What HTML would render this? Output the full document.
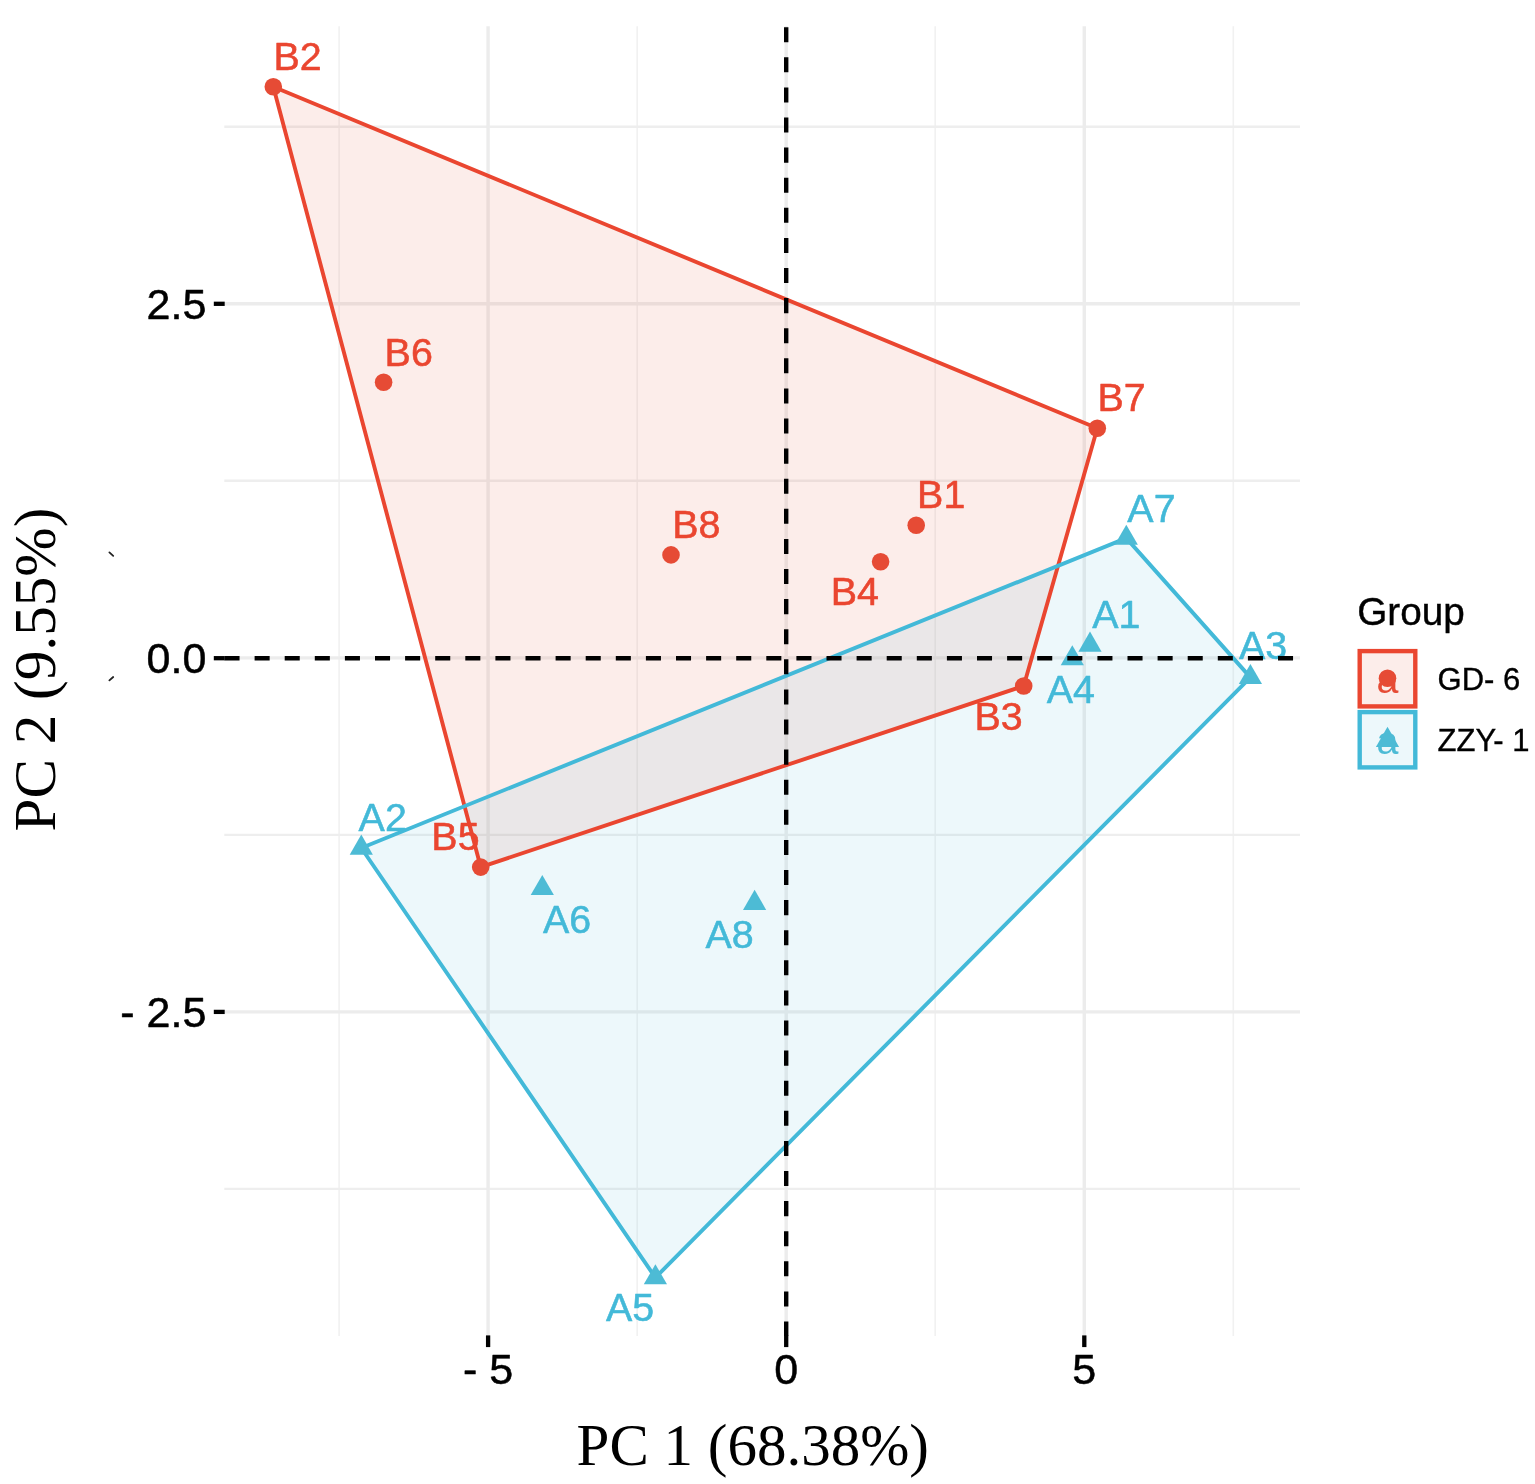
<!DOCTYPE html>
<html lang="en"><head><meta charset="utf-8"><title>PCA score plot</title>
<style>
html,body{margin:0;padding:0;background:#fff;}
body{width:1535px;height:1484px;overflow:hidden;}
svg{display:block;}
text{font-family:"Liberation Sans",Arial,Helvetica,sans-serif;}
.ser{font-family:"Liberation Serif","Times New Roman",Times,serif;}
</style></head><body>
<svg width="1535" height="1484" viewBox="0 0 1535 1484">
<rect width="1535" height="1484" fill="#ffffff"/>
<!-- panel grid -->
<g stroke="#ececec" fill="none">
<line x1="339.1" x2="339.1" y1="26.2" y2="1336.0" stroke="#f1f1f1" stroke-width="1.6"/>
<line x1="637.2" x2="637.2" y1="26.2" y2="1336.0" stroke="#f1f1f1" stroke-width="1.6"/>
<line x1="935.2" x2="935.2" y1="26.2" y2="1336.0" stroke="#f1f1f1" stroke-width="1.6"/>
<line x1="1233.3" x2="1233.3" y1="26.2" y2="1336.0" stroke="#f1f1f1" stroke-width="1.6"/>
<line y1="126.8" y2="126.8" x1="224.3" x2="1300.0" stroke="#eeeeee" stroke-width="2.4"/>
<line y1="480.8" y2="480.8" x1="224.3" x2="1300.0" stroke="#eeeeee" stroke-width="2.4"/>
<line y1="834.9" y2="834.9" x1="224.3" x2="1300.0" stroke="#eeeeee" stroke-width="2.4"/>
<line y1="1188.9" y2="1188.9" x1="224.3" x2="1300.0" stroke="#eeeeee" stroke-width="2.4"/>
<line x1="488.1" x2="488.1" y1="26.2" y2="1336.0" stroke-width="3.4"/>
<line x1="786.2" x2="786.2" y1="26.2" y2="1336.0" stroke-width="3.4"/>
<line x1="1084.3" x2="1084.3" y1="26.2" y2="1336.0" stroke-width="3.4"/>
<line y1="303.8" y2="303.8" x1="224.3" x2="1300.0" stroke-width="3.4"/>
<line y1="657.9" y2="657.9" x1="224.3" x2="1300.0" stroke-width="3.4"/>
<line y1="1011.9" y2="1011.9" x1="224.3" x2="1300.0" stroke-width="3.4"/>
</g>
<!-- convex hulls -->
<polygon points="273.3,86.7 1097.3,428.3 1023.7,686.0 480.7,867.1" fill="#E64B35" fill-opacity="0.1"/>
<polygon points="361.3,848.0 1126.3,538.1 1250.4,677.4 655.4,1277.6" fill="#4DBBD5" fill-opacity="0.1"/>
<polygon points="273.3,86.7 1097.3,428.3 1023.7,686.0 480.7,867.1" fill="none" stroke="#EA4630" stroke-width="3.9" stroke-linejoin="round"/>
<polygon points="361.3,848.0 1126.3,538.1 1250.4,677.4 655.4,1277.6" fill="none" stroke="#43B9D8" stroke-width="3.9" stroke-linejoin="round"/>
<!-- sample points -->
<g fill="#E64B35">
<circle cx="273.3" cy="86.7" r="8.8"/>
<circle cx="383.6" cy="382.2" r="8.8"/>
<circle cx="671.0" cy="554.9" r="8.8"/>
<circle cx="916.2" cy="525.2" r="8.8"/>
<circle cx="880.6" cy="561.7" r="8.8"/>
<circle cx="1097.3" cy="428.3" r="8.8"/>
<circle cx="1023.7" cy="686.0" r="8.8"/>
<circle cx="480.7" cy="867.1" r="8.8"/>
</g>
<g fill="#4DBBD5">
<polygon points="361.3,834.6 372.9,854.7 349.7,854.7"/>
<polygon points="1126.3,524.7 1137.9,544.8 1114.7,544.8"/>
<polygon points="1090.0,631.6 1101.6,651.7 1078.4,651.7"/>
<polygon points="1072.3,645.2 1083.9,665.3 1060.7,665.3"/>
<polygon points="1250.4,664.0 1262.0,684.1 1238.8,684.1"/>
<polygon points="542.3,875.0 553.9,895.1 530.7,895.1"/>
<polygon points="754.6,889.8 766.2,909.9 743.0,909.9"/>
<polygon points="655.4,1264.2 667.0,1284.3 643.8,1284.3"/>
</g>
<!-- sample labels -->
<g font-size="39.4" stroke-width="0.55" stroke-linejoin="round">
<text x="273.60" y="69.76" fill="#EA4630" stroke="#EA4630">B2</text>
<text x="384.62" y="365.54" fill="#EA4630" stroke="#EA4630">B6</text>
<text x="672.17" y="538.09" fill="#EA4630" stroke="#EA4630">B8</text>
<text x="917.12" y="508.06" fill="#EA4630" stroke="#EA4630">B1</text>
<text x="830.82" y="605.31" fill="#EA4630" stroke="#EA4630">B4</text>
<text x="1097.50" y="411.36" fill="#EA4630" stroke="#EA4630">B7</text>
<text x="974.52" y="730.24" fill="#EA4630" stroke="#EA4630">B3</text>
<text x="431.37" y="849.74" fill="#EA4630" stroke="#EA4630">B5</text>
<text x="1127.36" y="522.31" fill="#43B9D8" stroke="#43B9D8">A7</text>
<text x="1092.15" y="628.46" fill="#43B9D8" stroke="#43B9D8">A1</text>
<text x="1046.69" y="703.31" fill="#43B9D8" stroke="#43B9D8">A4</text>
<text x="1238.89" y="659.39" fill="#43B9D8" stroke="#43B9D8">A3</text>
<text x="358.61" y="831.16" fill="#43B9D8" stroke="#43B9D8">A2</text>
<text x="542.99" y="932.99" fill="#43B9D8" stroke="#43B9D8">A6</text>
<text x="705.44" y="947.54" fill="#43B9D8" stroke="#43B9D8">A8</text>
<text x="606.09" y="1320.64" fill="#43B9D8" stroke="#43B9D8">A5</text>
</g>
<!-- dashed reference lines -->
<g stroke="#000" stroke-width="4.4" fill="none" stroke-dasharray="15.05 15.05">
<line x1="224.5" x2="1300.0" y1="658.2" y2="658.2"/>
<line x1="786.2" x2="786.2" y1="27.2" y2="1336.0"/>
</g>
<!-- axis ticks -->
<g stroke="#000" stroke-width="4.3" fill="none">
<line x1="213.8" x2="224.7" y1="303.8" y2="303.8"/>
<line x1="213.8" x2="224.7" y1="658.2" y2="658.2"/>
<line x1="213.8" x2="224.7" y1="1011.9" y2="1011.9"/>
<line y1="1335.4" y2="1347.1" x1="488.1" x2="488.1"/>
<line y1="1335.4" y2="1347.1" x1="786.2" x2="786.2"/>
<line y1="1335.4" y2="1347.1" x1="1084.3" x2="1084.3"/>
</g>
<!-- tick labels -->
<g font-size="43" fill="#000" stroke="#000" stroke-width="0.5" stroke-linejoin="round">
<text x="206.3" y="318.7" text-anchor="end">2.5</text>
<text x="206.3" y="672.8" text-anchor="end">0.0</text>
<text x="206.3" y="1026.8" text-anchor="end">- 2.5</text>
<text x="488.1" y="1384.4" text-anchor="middle">- 5</text>
<text x="786.2" y="1384.4" text-anchor="middle">0</text>
<text x="1084.3" y="1384.4" text-anchor="middle">5</text>
</g>
<!-- small stray marks left of the y axis (present in the original figure) -->
<path d="M109.4 552.4 L113.2 555.8 M109.4 680.4 L113.2 677.0" stroke="#222" stroke-width="1.8" fill="none" stroke-linecap="round"/>
<!-- axis titles -->
<text class="ser" x="752.8" y="1464.8" font-size="59" text-anchor="middle" fill="#000">PC 1 (68.38%)</text>
<text class="ser" transform="translate(54.5 669.6) rotate(-90)" font-size="59.2" text-anchor="middle" fill="#000">PC 2 (9.55%)</text>
<!-- legend -->
<text x="1357.2" y="625" font-size="38.7" fill="#000" stroke="#000" stroke-width="0.4">Group</text>
<rect x="1359.7" y="651.1" width="55.6" height="55.3" fill="#E64B35" fill-opacity="0.1" stroke="#EA4630" stroke-width="4.4"/>
<circle cx="1387.5" cy="678.2" r="8.8" fill="#E64B35"/>
<text x="1387.4" y="692.8" font-size="39.4" text-anchor="middle" fill="#E64B35">a</text>
<text x="1437.6" y="690.0" font-size="31" fill="#000" stroke="#000" stroke-width="0.35">GD- 6</text>
<rect x="1359.7" y="712.1" width="55.6" height="55.3" fill="#4DBBD5" fill-opacity="0.1" stroke="#43B9D8" stroke-width="4.4"/>
<polygon points="1387.5,726.8 1399.1,746.9 1375.9,746.9" fill="#4DBBD5"/>
<text x="1387.4" y="753.8" font-size="39.4" text-anchor="middle" fill="#4DBBD5">a</text>
<text x="1437.6" y="751.2" font-size="31" fill="#000" stroke="#000" stroke-width="0.35">ZZY- 1</text>
</svg>
</body></html>
